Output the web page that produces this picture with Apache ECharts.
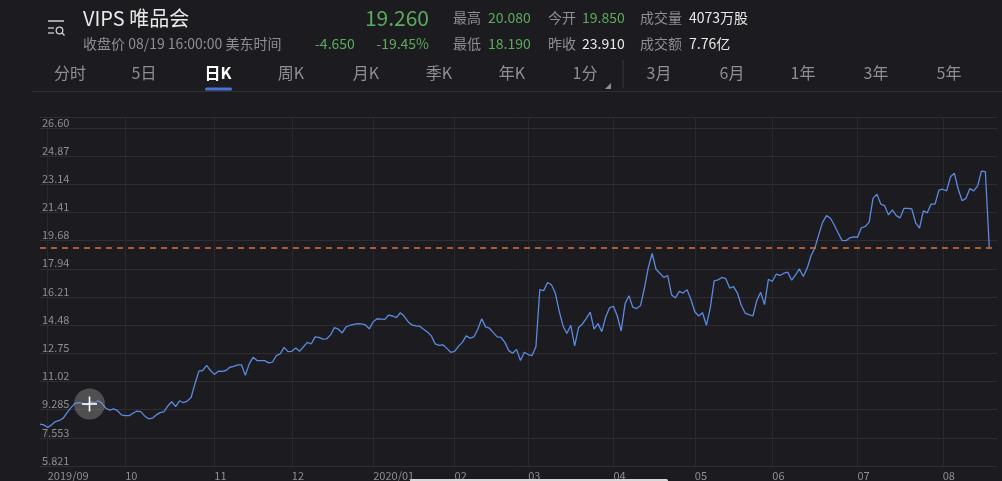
<!DOCTYPE html>
<html><head><meta charset="utf-8">
<script src="https://cdn.jsdelivr.net/npm/echarts@6/dist/echarts.min.js"></script>
<style>html,body{margin:0;padding:0;background:#1c1b1f;}#c{width:1002px;height:481px;}</style>
</head><body><div id="c"></div>
<script>
// ---- data ----
const startDate = '2019-08-29';
const endDate = '2020-08-21';
const holidays = ['2019-09-02','2019-11-28','2019-12-25','2020-01-01','2020-01-20','2020-02-17','2020-04-10','2020-05-25','2020-07-03'];
const yTickLabels = ['5.821','7.553','9.285','11.02','12.75','14.48','16.21','17.94','19.68','21.41','23.14','24.87','26.60'];
const yMin = 5.821, yStep = 1.7316, yMax = 27.27;
const lastClose = 19.26;
const closePrices = [
 8.39,8.35,8.19,8.35,8.55,8.62,8.76,9.10,9.41,9.67,9.71,9.67,9.57,9.77,9.71,9.83,9.67,9.37,9.26,9.33,
 9.22,8.96,8.92,8.92,9.06,9.20,9.16,8.90,8.72,8.76,8.96,9.10,9.16,9.51,9.77,9.47,9.83,9.71,9.81,10.03,
 10.88,11.65,11.69,12.00,11.69,11.45,11.65,11.63,11.69,11.89,11.94,12.04,12.04,11.39,12.10,12.50,12.30,12.30,12.30,12.16,
 12.20,12.61,12.71,13.11,12.85,12.87,13.07,12.87,13.15,13.42,13.32,13.76,13.72,13.62,13.64,13.88,14.33,14.23,14.00,14.37,
 14.47,14.53,14.57,14.55,14.49,14.25,14.69,14.87,14.85,14.83,15.10,15.04,14.94,15.24,15.02,14.69,14.49,14.43,14.41,14.23,
 14.06,13.82,13.32,13.23,13.27,13.05,12.81,12.87,13.17,13.42,13.82,13.68,13.76,14.23,14.87,14.37,14.29,14.02,13.76,13.72,
 13.42,12.91,12.75,12.99,12.30,12.81,12.67,12.61,13.15,16.66,16.60,17.10,16.96,16.45,15.34,14.43,13.96,14.47,13.21,14.33,
 14.55,14.89,15.28,14.23,14.57,14.08,14.98,15.54,15.64,15.04,14.12,15.79,16.29,15.58,15.50,15.68,16.76,18.01,18.88,17.91,
 17.67,17.41,17.53,16.35,16.15,16.55,16.45,16.66,16.05,15.30,15.04,15.24,14.47,15.54,17.20,17.26,17.41,17.33,16.76,16.84,
 16.45,15.70,15.22,15.12,15.04,15.99,16.49,15.74,17.30,17.16,17.61,17.53,17.67,17.73,17.24,17.57,17.93,17.47,17.97,18.74,
 19.23,20.04,20.81,21.21,21.05,20.63,20.14,19.69,19.67,19.84,19.90,19.88,20.46,20.54,20.81,22.27,22.53,21.92,21.82,21.25,
 21.56,21.21,21.07,21.66,21.66,21.62,20.77,20.44,21.50,21.38,21.92,21.92,22.77,22.83,22.73,23.60,23.81,22.83,22.12,22.27,
 22.87,22.73,23.04,23.95,23.91,19.26
];
const tabs = ['分时','5日','日K','周K','月K','季K','年K','1分','3月','6月','1年','3年','5年'];
const tabCenters = [70,144,218,291,366,439,512,585,659,732,803,876,949];
const activeTab = '日K';

// ---- trading-day categories ----
function buildDays(){
  const out=[]; const d=new Date(startDate+'T00:00:00Z'); const e=new Date(endDate+'T00:00:00Z');
  while(d<=e){
    const wd=d.getUTCDay(); const s=d.toISOString().slice(0,10);
    if(wd!==0 && wd!==6 && holidays.indexOf(s)<0) out.push(s);
    d.setUTCDate(d.getUTCDate()+1);
  }
  return out;
}
const days = buildDays();
function isMonthStart(i){ return i>0 && days[i].slice(0,7)!==days[i-1].slice(0,7); }
function monthLabel(s){ const m=s.slice(5,7); return (m==='01'||s.slice(0,7)==='2019-09') ? s.slice(0,4)+'/'+m : m; }

const FONT = '"Noto Sans CJK SC", "Noto Sans", sans-serif';
const GRAY = '#8e8e93', GREEN = '#5cab5c', WHITE = '#e9e9ea';

function txt(text,x,y,size,fill,align,weight){
  return {type:'text', silent:true, style:{text:text,x:x,y:y,fontSize:size,fill:fill,fontFamily:FONT,
    textAlign:align||'left',textVerticalAlign:'middle',fontWeight:weight||'normal'}};
}
const graphics = [
  // icon
  {type:'line', shape:{x1:48,y1:21,x2:64,y2:21}, style:{stroke:'#cfcfd2',lineWidth:1.5}},
  {type:'line', shape:{x1:48,y1:28,x2:54,y2:28}, style:{stroke:'#cfcfd2',lineWidth:1.3}},
  {type:'line', shape:{x1:48,y1:33,x2:54,y2:33}, style:{stroke:'#cfcfd2',lineWidth:1.3}},
  {type:'circle', shape:{cx:59.5,cy:30.5,r:3.3}, style:{stroke:'#cfcfd2',fill:'none',lineWidth:1.3}},
  {type:'line', shape:{x1:61.8,y1:32.8,x2:64.5,y2:35.5}, style:{stroke:'#cfcfd2',lineWidth:1.3}},
  txt('VIPS 唯品会',83,18,20,WHITE),
  txt('19.260',429,18,21,GREEN,'right'),
  txt('收盘价 08/19 16:00:00 美东时间',83,44,14,GRAY),
  txt('-4.650',315,44,14,GREEN),
  txt('-19.45%',429,44,14,GREEN,'right'),
  txt('最高',453,18,14,GRAY), txt('20.080',488,18,14,GREEN),
  txt('今开',548,18,14,GRAY), txt('19.850',582,18,14,GREEN),
  txt('成交量',640,18,14,GRAY), txt('4073万股',689,18,14,WHITE),
  txt('最低',453,44,14,GRAY), txt('18.190',488,44,14,GREEN),
  txt('昨收',548,44,14,GRAY), txt('23.910',582,44,14,WHITE),
  txt('成交额',640,44,14,GRAY), txt('7.76亿',689,44,14,WHITE),
  {type:'rect', shape:{x:205,y:87.5,width:27,height:3,r:1.5}, style:{fill:'#4a72d9'}},
  {type:'line', shape:{x1:623,y1:60,x2:623,y2:88}, style:{stroke:'#3a393e',lineWidth:1}},
  {type:'polygon', shape:{points:[[611,83],[611,89],[605,89]]}, style:{fill:GRAY}},
  {type:'line', shape:{x1:32,y1:91.5,x2:1002,y2:91.5}, style:{stroke:'#323136',lineWidth:1}},
  // crosshair marker
  {type:'circle', z:100, shape:{cx:89.5,cy:404,r:15.5}, style:{fill:'rgba(150,150,150,0.42)'}},
  {type:'line', z:101, shape:{x1:82,y1:404,x2:97,y2:404}, style:{stroke:'#ffffff',lineWidth:1.6}},
  {type:'line', z:101, shape:{x1:89.5,y1:396.5,x2:89.5,y2:411.5}, style:{stroke:'#ffffff',lineWidth:1.6}},
  // home indicator
  {type:'rect', z:100, shape:{x:410,y:479,width:258,height:3,r:1.5}, style:{fill:'#d8d8da'}}
];
tabs.forEach((t,i)=>{
  graphics.push(txt(t,tabCenters[i],73,16,t===activeTab?'#ffffff':GRAY,'center',t===activeTab?'bold':'normal'));
});

const chart = echarts.init(document.getElementById('c'), null, {renderer:'canvas'});
chart.setOption({
  backgroundColor:'#1c1b1f',
  animation:false,
  grid:{left:40,right:5,top:117,bottom:11,containLabel:false},
  xAxis:{
    type:'category', data:days, boundaryGap:false,
    axisLine:{show:false}, axisTick:{show:false},
    axisLabel:{interval:(i)=>isMonthStart(i), formatter:(v)=>monthLabel(v), color:GRAY, fontSize:11,
      align:'left', margin:4, fontFamily:FONT, hideOverlap:false},
    splitLine:{show:true, interval:(i)=>isMonthStart(i), lineStyle:{color:'#29282d',width:1}}
  },
  yAxis:{
    type:'value', min:yMin, max:yMax, interval:yStep, scale:true,
    axisLine:{show:false}, axisTick:{show:false},
    axisLabel:{inside:true, verticalAlign:'bottom', margin:2, color:GRAY, fontSize:11, fontFamily:FONT,
      formatter:(v)=>{ const k=Math.round((v-yMin)/yStep); return (k>=0&&k<yTickLabels.length&&Math.abs(yMin+k*yStep-v)<0.01)?yTickLabels[k]:''; }},
    splitLine:{show:true, lineStyle:{color:'#2e2d32',width:1}}
  },
  series:[{
    type:'line', data:closePrices, showSymbol:false, symbol:'none', smooth:false,
    lineStyle:{color:'#5b8ae0',width:1.3},
    markLine:{silent:true, symbol:'none', label:{show:false},
      lineStyle:{color:'#d8743c',type:[6,5],width:1.5},
      data:[{yAxis:lastClose}]}
  }],
  graphic:graphics
});
</script></body></html>
